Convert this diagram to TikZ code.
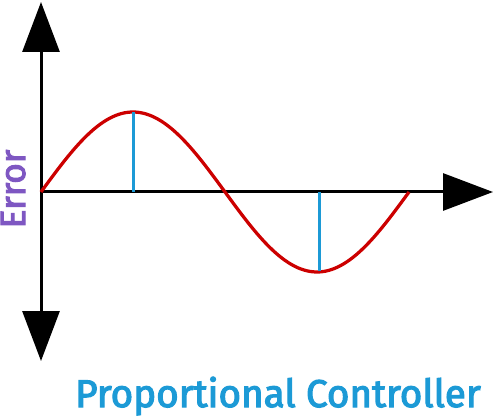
\documentclass[tikz,border=0pt]{standalone}
\usepackage{fontspec}
\setmainfont{Fira Sans}
\newfontfamily\medfont{Fira Sans}[FakeBold=3]
\usetikzlibrary{arrows.meta}
\definecolor{curvered}{HTML}{CC0000}
\definecolor{markblue}{HTML}{1C9AD6}
\definecolor{labelpurple}{HTML}{7E57C2}
\begin{document}
\begin{tikzpicture}[x=0.02cm,y=-0.02cm,
  axis/.style={line width=0.06cm,black,-{Triangle[length=1cm,width=0.74cm]}},
  curve/.style={line width=0.065cm,curvered},
  marker/.style={line width=0.06cm,markblue},
  title/.style={font=\medfont\fontsize{22}{26}\selectfont,text=markblue,anchor=base},
  ylabel/.style={font=\medfont\fontsize{20}{24}\selectfont,text=labelpurple,rotate=90,anchor=base}]
\useasboundingbox (0,0) rectangle (500,418);
\coordinate (origin) at (41,192);
\coordinate (ytop) at (41,2);
\coordinate (ybot) at (41,361);
\coordinate (xend) at (493,192);
\coordinate (peak) at (133,112);
\coordinate (peakfoot) at (133,192);
\coordinate (trough) at (319,271);
\coordinate (troughfoot) at (319,192);
\draw[axis] (origin) -- (ytop);
\draw[axis] (origin) -- (ybot);
\draw[axis] (origin) -- (xend);
\draw[curve] plot[domain=0:368,samples=120,smooth] ({\x+41},{192-80*sin(\x/184*180)});
\draw[marker] (peakfoot) -- (peak);
\draw[marker] (troughfoot) -- (trough);
\node[ylabel] (err) at (25,189) {Error};
\node[title] (ttl) at (278,407) {Proportional Controller};
\end{tikzpicture}
\end{document}
